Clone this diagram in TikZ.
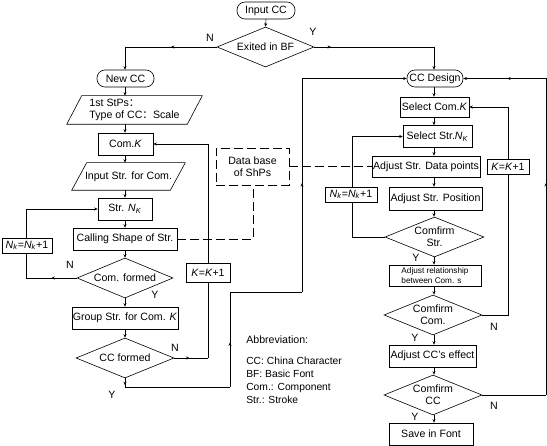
\documentclass[tikz,border=0pt]{standalone}
\usepackage{fontspec}
\setmainfont{Liberation Sans}
\newfontfamily\cjk{Noto Sans CJK SC}
\usetikzlibrary{shapes.geometric,shapes.misc,arrows.meta,decorations.markings,calc}
\newcommand{\nK}{\textit{N}\textsubscript{\textit{K}}}
\newcommand{\nk}{\textit{N}\textsubscript{\textit{k}}}
\begin{document}
\begin{tikzpicture}[x=1pt,y=-1pt,
 font=\fontsize{10.6}{12}\selectfont,
 line width=0.6pt,
 >={Stealth[length=3.5pt,width=3pt]},
 box/.style={draw,rectangle,inner sep=1pt,minimum width=#1,minimum height=22pt,fill=white},
 term/.style={draw,rounded corners=8pt,inner sep=1pt,minimum width=#1,minimum height=17pt},
 dia/.style={draw,diamond,aspect=2.4,inner sep=0pt,minimum width=98pt,minimum height=40pt,align=center},
 parabody/.style={rectangle,inner sep=1pt,minimum width=#1},
 mid/.style={postaction={decorate,decoration={markings,mark=at position #1 with {\arrow{>}}}}},
 mid/.default=0.5,
 dbline/.style={dash pattern=on 9pt off 4pt},
 lbl/.style={inner sep=0pt}]
\useasboundingbox (0,0) rectangle (547,446);
% left column
\node[term=58pt] (in) at (266,10.5) {Input CC};
\node[dia,minimum width=97pt] (ex) at (265.5,47) {Exited in BF};
\node[term=57pt] (newcc) at (125.5,78.5) {New CC};
\node[parabody=120pt,minimum height=28pt,align=left] (stp) at (134.5,110) {1st StPs{\cjk ：}\\Type of CC{\cjk ：}Scale};
\draw ($(stp.south west)+(-7.5,0)$) -- ($(stp.north west)+(7.5,0)$) -- ($(stp.north east)+(7.5,0)$) -- ($(stp.south east)+(-7.5,0)$) -- cycle;
\node[box=55pt] (comk) at (125.5,144) {Com.\textit{K}};
\node[parabody=98pt,minimum height=27pt] (inp) at (128.5,176.5) {Input Str. for Com.};
\draw ($(inp.south west)+(-7.5,0)$) -- ($(inp.north west)+(7.5,0)$) -- ($(inp.north east)+(7.5,0)$) -- ($(inp.south east)+(-7.5,0)$) -- cycle;
\node[box=54pt] (strn) at (125,209) {Str. \nK};
\node[box=104pt] (call) at (125,239) {Calling Shape of Str.};
\node[dia,minimum width=96pt] (comf) at (125,278) {Com. formed};
\node[box=104pt] (grp) at (125,318) {Group Str. for Com. \textit{K}};
\node[dia] (ccf) at (125,358) {CC formed};
\node[draw,dbline,minimum width=73pt,minimum height=37pt,align=center,inner sep=1pt] (db) at (252.5,166.5) {Data base\\of ShPs};
% right column
\node[term=56pt] (ccd) at (435,78.5) {CC Design};
\node[box=69pt,minimum height=20pt] (scom) at (434.5,107) {Select Com.\textit{K}};
\node[box=69pt] (sstr) at (437.5,136.5) {Select Str.\nK};
\node[box=108pt,minimum height=21pt] (adjdp) at (426,166.5) {Adjust Str. Data points};
\node[box=93pt,minimum height=23pt] (adjpos) at (435.5,198.5) {Adjust Str. Position};
\node[dia,minimum width=99pt] (cstr) at (434.5,237) {Comfirm\\Str.};
\node[box=92pt,minimum height=21pt,align=left,font=\fontsize{8.2}{9.5}\selectfont] (adjrel) at (435,275.5) {Adjust relationship\\between Com. s};
\node[dia] (ccom) at (433,315) {Comfirm\\Com.};
\node[box=87pt] (adjcc) at (432.5,356) {Adjust CC's effect};
\node[dia] (ccc) at (433,395) {Comfirm\\CC};
\node[box=84pt] (save) at (431,434) {Save in Font};
% guide coordinates
\coordinate (lx) at (125,0);
\coordinate (rx) at (434,0);
% top
\draw[->] (in.south) -- (ex.north);
\coordinate (c1) at (125,47);
\draw[mid] (ex.west) -- (c1);
\draw[->] (c1) -- (newcc.north -| c1);
\coordinate (e1) at (434,47);
\draw[mid=0.14] (ex.east) -- (e1);
\draw[->] (e1) -- (ccd.north -| e1);
% left chain
\draw[->] (newcc.south -| lx) -- (stp.north -| lx);
\draw[->] (stp.south -| lx) -- (comk.north -| lx);
\draw[->] (comk.south -| lx) -- (inp.north -| lx);
\draw[->] (inp.south -| lx) -- (strn.north -| lx);
\draw[->] (strn.south -| lx) -- (call.north -| lx);
\draw[->] (call.south -| lx) -- (comf.north -| lx);
\draw[->] (comf.south -| lx) -- (grp.north -| lx);
\draw[->] (grp.south -| lx) -- (ccf.north -| lx);
% Nk loop left
\coordinate (c2) at (26,278);
\coordinate (c3) at (26,209);
\draw[mid] (comf.west) -- (c2);
\draw[->] (c2) -- (c3) -- (strn.west);
\node[box=50pt,minimum height=15pt] (nk1) at (27,245.5) {\nk=\nk+1};
% K loop left
\coordinate (c4) at (208,358);
\coordinate (c5) at (208,144);
\draw[mid=0.45] (ccf.east) -- (c4);
\draw[->] (c4) -- (c5) -- (comk.east);
\node[box=44pt,minimum height=19pt] (k1) at (208,272.5) {\textit{K}=\textit{K}+1};
% Y to CC Design
\coordinate (c6) at (125,387);
\coordinate (c7) at (230,387);
\coordinate (c8) at (230,292);
\coordinate (c9) at (302,292);
\coordinate (c10) at (302,78.5);
\draw[mid=0.8] (ccf.south) -- (c6);
\draw (c6) -- (c7);
\draw[mid=0.47] (c7) -- (c8);
\draw (c8) -- (c9);
\draw[mid=0.51] (c9) -- (c10);
\draw[->] (c10) -- (ccd.west);
% data base
\coordinate (d1) at (253,239);
\draw[dbline] (call.east) -- (d1) -- (db.south -| d1);
\draw[dbline] (db.east) -- (adjdp.west);
% right chain
\foreach \a/\b in {ccd/scom,scom/sstr,sstr/adjdp,adjdp/adjpos,adjpos/cstr,cstr/adjrel,adjrel/ccom,ccom/adjcc,adjcc/ccc,ccc/save}
  \draw[->] (\a.south -| rx) -- (\b.north -| rx);
% right Nk loop
\coordinate (fx) at (352,0);
\draw[->] (cstr.west) -- (cstr.west -| fx) -- (sstr.west -| fx) -- (sstr.west);
\node[box=52pt,minimum height=15pt] (nk2) at (351,194.5) {\nk=\nk+1};
% right K loop
\coordinate (gx) at (508,0);
\draw[->] (ccom.east) -- (ccom.east -| gx) -- (scom.east -| gx) -- (scom.east);
\node[box=42pt,minimum height=15pt] (k2) at (508,166.5) {\textit{K}=\textit{K}+1};
% right CC loop
\coordinate (hx) at (546,0);
\coordinate (h1) at (ccc.east -| hx);
\coordinate (h2) at (ccd.east -| hx);
\draw (ccc.east) -- (h1);
\draw[mid=0.67] (h1) -- (h2);
\draw[->,mid=0.47] (h2) -- (ccd.east);
% labels
\node[lbl] (tN) at (210,38) {N};
\node[lbl] (tY) at (313,32) {Y};
\node[lbl] (cfN) at (70,265) {N};
\node[lbl] (cfY) at (155,295) {Y};
\node[lbl] (ccfN) at (175,348) {N};
\node[lbl] (ccfY) at (112,395) {Y};
\node[lbl] (csY) at (416,258) {Y};
\node[lbl] (cmY) at (415,338) {Y};
\node[lbl] (cmN) at (494,327) {N};
\node[lbl] (ccY) at (415,417) {Y};
\node[lbl] (ccN) at (494,406) {N};
% abbreviation
\node[lbl,anchor=west] (abbr) at (246,340) {Abbreviation:};
\node[lbl,anchor=north west,align=left,font=\fontsize{10.3}{13}\selectfont] (abbrl) at (246,357) {CC: China Character\\BF: Basic Font\\Com.: Component\\Str.: Stroke};
\end{tikzpicture}
\end{document}
